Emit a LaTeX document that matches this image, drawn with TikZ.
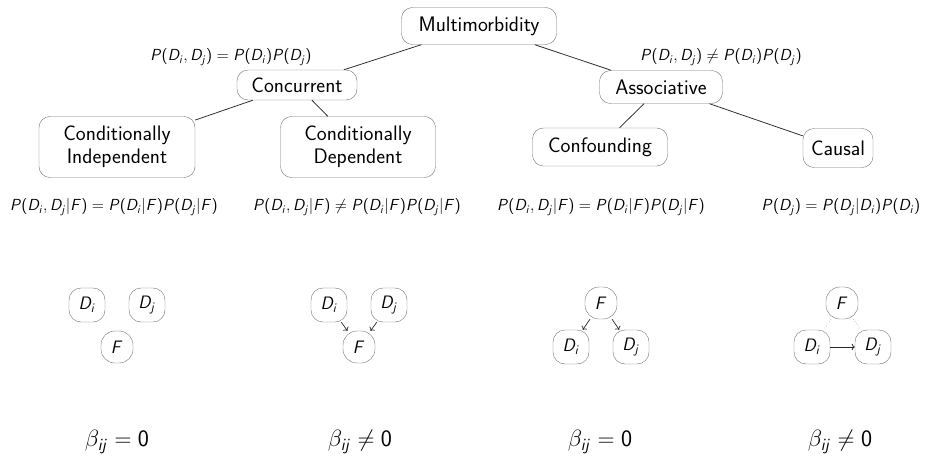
\RequirePackage{fix-cm}
\documentclass[tikz,border=0pt]{standalone}
\usetikzlibrary{arrows.meta}
% sans-serif letters and digits in formulas
\DeclareSymbolFont{sfletters}{OT1}{cmss}{m}{sl}
\DeclareSymbolFont{sfupright}{OT1}{cmss}{m}{n}
\DeclareMathSymbol{P}{\mathalpha}{sfletters}{`P}
\DeclareMathSymbol{D}{\mathalpha}{sfletters}{`D}
\DeclareMathSymbol{F}{\mathalpha}{sfletters}{`F}
\DeclareMathSymbol{i}{\mathalpha}{sfletters}{`i}
\DeclareMathSymbol{j}{\mathalpha}{sfletters}{`j}
\DeclareMathSymbol{0}{\mathalpha}{sfupright}{`0}
\DeclareMathSymbol{(}{\mathopen}{sfupright}{`(}
\DeclareMathSymbol{)}{\mathclose}{sfupright}{`)}
\begin{document}
\begin{tikzpicture}[x=1pt,y=-1pt,
  cat/.style={draw=black!55, rounded corners=11pt, align=center,
    font=\fontsize{21}{23}\selectfont\sffamily, inner xsep=8pt, inner ysep=3pt},
  var/.style={draw=black!55, rounded corners=12pt, minimum width=36pt,
    minimum height=34pt, inner sep=2pt, font=\fontsize{18}{20}\selectfont},
  fac/.style={var, minimum width=32pt, minimum height=32pt, rounded corners=14pt},
  rel/.style={font=\fontsize{16}{18}\selectfont},
  coef/.style={font=\fontsize{23.5}{26}\selectfont},
  link/.style={black!85, line width=0.75pt},
  dep/.style={->, black!85, line width=0.7pt},
  weak/.style={dotted, black!35, line width=0.6pt}]
\useasboundingbox (0,0) rectangle (926,460);

% taxonomy tree
\node[cat, minimum height=37pt, minimum width=155pt] (mm) at (479,26) {Multimorbidity};
\node[cat, minimum height=30pt, minimum width=120pt] (conc) at (297,85) {Concurrent};
\node[cat, minimum height=33pt, minimum width=123pt] (assoc) at (661,87) {Associative};
\node[cat, minimum height=61pt, minimum width=156pt] (cind) at (117,147) {Conditionally\\Independent};
\node[cat, minimum height=61pt, minimum width=155pt] (cdep) at (358,147) {Conditionally\\Dependent};
\node[cat, minimum height=38pt, minimum width=135pt] (conf) at (600,147) {Confounding};
\node[cat, minimum height=39pt, minimum width=70pt] (caus) at (838,148) {Causal};

\draw[link] (mm) -- (conc);
\draw[link] (mm) -- (assoc);
\draw[link] (conc) -- (cind);
\draw[link] (conc) -- (cdep);
\draw[link] (assoc) -- (conf);
\draw[link] (assoc) -- (caus);

% defining relations
\node[rel] (rconc) at (231,57) {$P(D_i,D_j)=P(D_i)P(D_j)$};
\node[rel] (rassoc) at (721,57) {$P(D_i,D_j)\neq P(D_i)P(D_j)$};
\node[rel] (rcind) at (114,207) {$P(D_i,D_j|F)=P(D_i|F)P(D_j|F)$};
\node[rel] (rcdep) at (357,207) {$P(D_i,D_j|F)\neq P(D_i|F)P(D_j|F)$};
\node[rel] (rconf) at (601,207) {$P(D_i,D_j|F)=P(D_i|F)P(D_j|F)$};
\node[rel] (rcaus) at (841,207) {$P(D_j)=P(D_j|D_i)P(D_i)$};

% conditionally independent
\node[var] (ai) at (87,305) {$D_i$};
\node[var] (aj) at (147,305) {$D_j$};
\node[fac] (af) at (117,347) {$F$};

% conditionally dependent
\node[var] (bi) at (329,305) {$D_i$};
\node[var] (bj) at (389,305) {$D_j$};
\node[fac] (bf) at (359,347) {$F$};
\draw[dep] (bi) -- (bf);
\draw[dep] (bj) -- (bf);

% confounding
\node[fac] (cf) at (601,303) {$F$};
\node[var] (ci) at (571,347) {$D_i$};
\node[var] (cj) at (631,347) {$D_j$};
\draw[dep] (cf) -- (ci);
\draw[dep] (cf) -- (cj);

% causal
\node[fac] (df) at (842,303) {$F$};
\node[var] (di) at (812,347) {$D_i$};
\node[var] (dj) at (873,347) {$D_j$};
\draw[weak] (df) -- (di);
\draw[weak] (df) -- (dj);
\draw[dep] (di) -- (dj);

% coefficients
\node[coef] (ba) at (117,442) {$\beta_{ij}=0$};
\node[coef] (bb) at (360,442) {$\beta_{ij}\neq 0$};
\node[coef] (bc) at (600,442) {$\beta_{ij}=0$};
\node[coef] (bd) at (840,442) {$\beta_{ij}\neq 0$};
\end{tikzpicture}
\end{document}
